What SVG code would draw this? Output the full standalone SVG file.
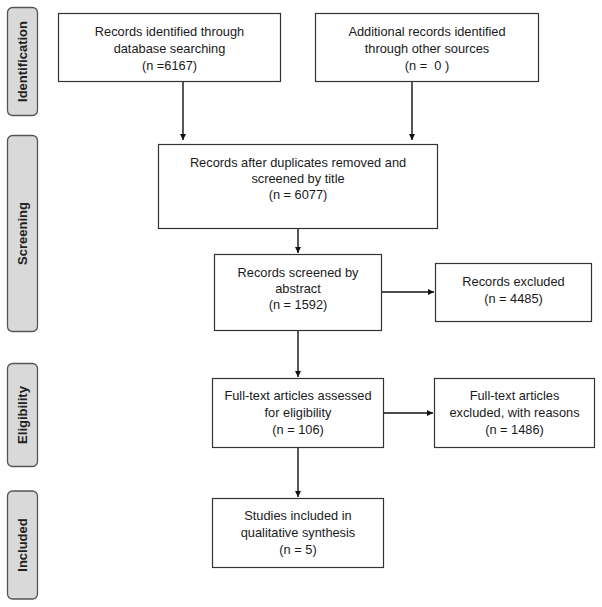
<svg xmlns="http://www.w3.org/2000/svg" width="602" height="607" viewBox="0 0 602 607">
<style>
.tab{fill:#d9d9d9;stroke:#555;stroke-width:1.3}
.box{fill:#fff;stroke:#333;stroke-width:1.2}
.t{font-family:"Liberation Sans",Arial,sans-serif;font-size:12.8px;fill:#1a1a1a;text-anchor:middle}
.tl{font-family:"Liberation Sans",Arial,sans-serif;font-size:13px;font-weight:bold;fill:#222;text-anchor:middle}
.c{stroke:#111;stroke-width:1.4;fill:none;marker-end:url(#ah)}
</style>
<defs>
<marker id="ah" viewBox="0 0 10 10" refX="10" refY="5" markerWidth="6" markerHeight="6" markerUnits="userSpaceOnUse" orient="auto">
<path d="M0,0 L10,5 L0,10 z" fill="#111"/>
</marker>
</defs>
<rect width="602" height="607" fill="#fff"/>

<g id="tab-identification">
<rect class="tab" x="7.5" y="7.5" width="30" height="108" rx="5"/>
<text class="tl" transform="translate(27,61.5) rotate(-90)">Identification</text>
</g>
<g id="tab-screening">
<rect class="tab" x="7.5" y="135.5" width="30" height="196" rx="5"/>
<text class="tl" transform="translate(27,233.5) rotate(-90)">Screening</text>
</g>
<g id="tab-eligibility">
<rect class="tab" x="7.5" y="363.5" width="30" height="103" rx="5"/>
<text class="tl" transform="translate(27,415) rotate(-90)">Eligibility</text>
</g>
<g id="tab-included">
<rect class="tab" x="7.5" y="491" width="30" height="108" rx="5"/>
<text class="tl" transform="translate(27,545) rotate(-90)">Included</text>
</g>

<g id="connectors">
<line class="c" x1="183" y1="82" x2="183" y2="140"/>
<line class="c" x1="412" y1="82" x2="412" y2="140"/>
<line class="c" x1="298" y1="228" x2="298" y2="253"/>
<line class="c" x1="381" y1="292" x2="434" y2="292"/>
<line class="c" x1="298" y1="330" x2="298" y2="377"/>
<line class="c" x1="383" y1="413" x2="433" y2="413"/>
<line class="c" x1="298" y1="447" x2="298" y2="497"/>
</g>

<g id="n-database">
<rect class="box" x="58.5" y="13.5" width="222" height="68"/>
<text class="t" x="169.5" y="36">Records identified through</text>
<text class="t" x="169.5" y="53">database searching</text>
<text class="t" x="169.5" y="70">(n =6167)</text>
</g>
<g id="n-other">
<rect class="box" x="315.5" y="13.5" width="223" height="68"/>
<text class="t" x="427" y="36">Additional records identified</text>
<text class="t" x="427" y="53">through other sources</text>
<text class="t" x="427" y="70" xml:space="preserve">(n =  0 )</text>
</g>
<g id="n-dupes">
<rect class="box" x="158.5" y="144.5" width="279" height="84"/>
<text class="t" x="298" y="167">Records after duplicates removed and</text>
<text class="t" x="298" y="183">screened by title</text>
<text class="t" x="298" y="199">(n = 6077)</text>
</g>
<g id="n-abstract">
<rect class="box" x="214.5" y="254.5" width="167" height="76"/>
<text class="t" x="298" y="277">Records screened by</text>
<text class="t" x="298" y="293">abstract</text>
<text class="t" x="298" y="309">(n = 1592)</text>
</g>
<g id="n-excluded">
<rect class="box" x="435.5" y="263.5" width="156" height="58"/>
<text class="t" x="513.5" y="286">Records excluded</text>
<text class="t" x="513.5" y="303">(n = 4485)</text>
</g>
<g id="n-fulltext">
<rect class="box" x="212.5" y="378.5" width="171" height="69"/>
<text class="t" x="298" y="400">Full-text articles assessed</text>
<text class="t" x="298" y="417">for eligibility</text>
<text class="t" x="298" y="434">(n = 106)</text>
</g>
<g id="n-ft-excluded">
<rect class="box" x="434.5" y="378.5" width="160" height="69"/>
<text class="t" x="514.5" y="400">Full-text articles</text>
<text class="t" x="514.5" y="417">excluded, with reasons</text>
<text class="t" x="514.5" y="434">(n = 1486)</text>
</g>
<g id="n-included">
<rect class="box" x="212.5" y="498.5" width="171" height="69"/>
<text class="t" x="298" y="520">Studies included in</text>
<text class="t" x="298" y="537">qualitative synthesis</text>
<text class="t" x="298" y="554">(n = 5)</text>
</g>
</svg>
